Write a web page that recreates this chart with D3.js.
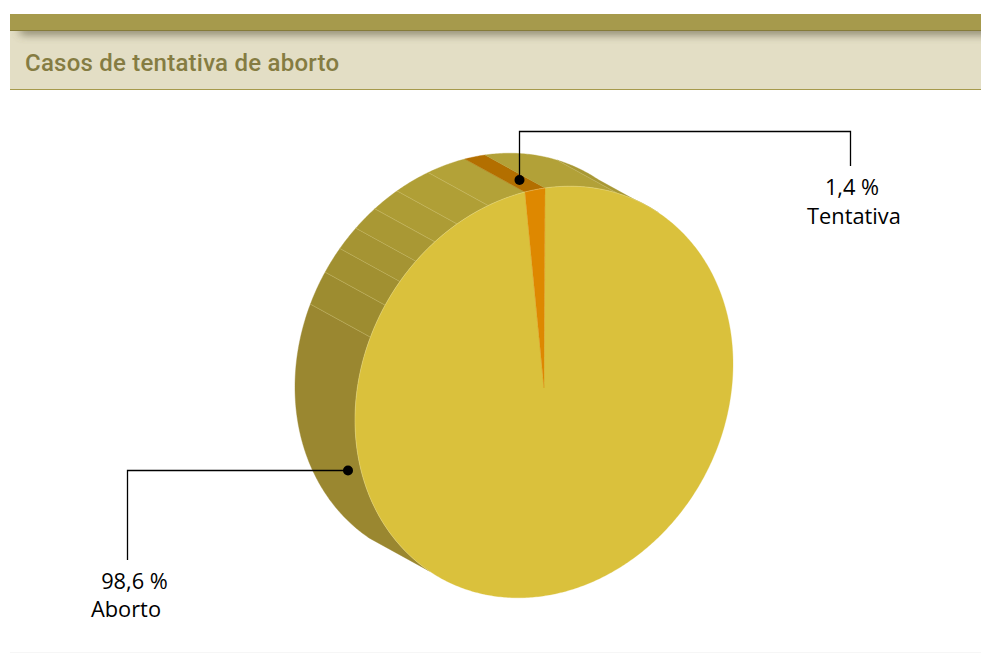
<!DOCTYPE html>
<html><head><meta charset="utf-8">
<script src="https://cdn.jsdelivr.net/npm/d3@7/dist/d3.min.js"></script>
<style>html,body{margin:0;padding:0;background:#fff}svg{display:block}</style>
</head><body><svg id="c" width="981" height="653"></svg>
<script>
const title = "Casos de tentativa de aborto";
const categories = ["Aborto", "Tentativa"];
const shares = [98.6, 1.4];
const shareLabels = ["98,6 %", "1,4 %"];
const faceColors = ["#dac13c", "#de8800"];
const sideColors = ["#9a8830", "#b36f00"];
// facet edges of the extruded wall, degrees clockwise from 12 o'clock
const facetEdges = [-143, -67, -57.5, -50, -43, -35.6, -27.7, -17.5, 0, 22.5, 37];

const svg = d3.select("#c");
const defs = svg.append("defs");
defs.append("filter").attr("id","blur").attr("x","-5%").attr("y","-300%").attr("width","110%").attr("height","700%")
  .append("feGaussianBlur").attr("stdDeviation",5);
defs.append("clipPath").attr("id","band").append("rect").attr("x",10).attr("y",31).attr("width",971).attr("height",58);

// header
svg.append("rect").attr("x",10).attr("y",31).attr("width",971).attr("height",58).attr("fill","#e3dec5");
svg.append("g").attr("clip-path","url(#band)")
  .append("rect").attr("x",20).attr("y",26).attr("width",980).attr("height",8).attr("fill","#5e5a40").attr("opacity",.8).attr("filter","url(#blur)");
svg.append("rect").attr("x",10).attr("y",14).attr("width",971).attr("height",16).attr("fill","#a69a4c");
svg.append("rect").attr("x",10).attr("y",30).attr("width",971).attr("height",1).attr("fill","#857b3a");
svg.append("rect").attr("x",10).attr("y",89).attr("width",971).attr("height",1).attr("fill","#a69a4c");
svg.append("text").attr("x",25).attr("y",71).text(title)
  .attr("font-family","Roboto").attr("font-weight",500).attr("font-size",24).attr("letter-spacing",.23).attr("fill","#857c42");
svg.append("rect").attr("x",10).attr("y",652).attr("width",971).attr("height",1).attr("fill","#f6f6f6");

// projected pie geometry
const cx = 544, cy = 392, apex = [544, 388];
const ax = d3.scaleLinear().domain([-1,1]).range([-189,189]);   // sin component to x
const ay = d3.scaleLinear().domain([-1,1]).range([27,-27]);     // sin component to y
const bx = d3.scaleLinear().domain([-1,1]).range([-1,1]);       // cos component to x
const by = d3.scaleLinear().domain([-1,1]).range([204,-204]);   // cos component to y
const depth = {x:-60, y:-33};
const front = t => [cx + ax(Math.sin(t)) + bx(Math.cos(t)), cy + ay(Math.sin(t)) + by(Math.cos(t))];
const back = t => { const p = front(t); return [p[0]+depth.x, p[1]+depth.y]; };
const rad = d => d*Math.PI/180;
const arcPts = (fn,a,b) => { const n = Math.max(2,Math.ceil(Math.abs(b-a)/0.01)); return d3.range(n+1).map(i => fn(a+(b-a)*i/n)); };
const line = d3.line();

// perspective widens the thin slice slightly: share of the pie to drawn angle, from the top going backward
const sliceAngle = d3.scaleLinear().domain([0,1.4,100]).range([0,rad(6.1),2*Math.PI]);
const tentAngle = sliceAngle(shares[1]);
const pie = [
  {startAngle:0, endAngle:2*Math.PI-tentAngle},
  {startAngle:-tentAngle, endAngle:0}
];
const shade = d3.scaleLinear().domain([-100,-62,-53,-46,-39,-31,-22,-11,10,30])
  .range(["#9a8830","#9d8c30","#a19031","#a59433","#a99834","#ad9c35","#b09f36","#b3a238","#b3a238","#a89834"]);

const edgesDeg = facetEdges.concat([-tentAngle*180/Math.PI]).sort(d3.ascending);
const facets = d3.pairs(edgesDeg).map(([a,b]) => ({a:rad(a), b:rad(b), mid:(a+b)/2}));
const inTent = f => f.a >= -tentAngle-1e-6 && f.b <= 1e-6;
const gSide = svg.append("g");
gSide.selectAll("path").data(facets).join("path")
  .attr("d", f => line(arcPts(front,f.a,f.b).concat(arcPts(back,f.b,f.a)))+"Z")
  .attr("fill", f => inTent(f) ? sideColors[1] : shade(f.mid))
  .attr("stroke", f => inTent(f) ? sideColors[1] : shade(f.mid)).attr("stroke-width",.4);
gSide.selectAll("line").data(facetEdges.slice(1,-1).filter(d => d !== 0)).join("line")
  .attr("x1", d => back(rad(d))[0]).attr("y1", d => back(rad(d))[1])
  .attr("x2", d => front(rad(d))[0]).attr("y2", d => front(rad(d))[1])
  .attr("stroke","#d8cc80").attr("stroke-opacity",.5).attr("stroke-width",.7);

// face
svg.append("g").selectAll("path").data(pie).join("path")
  .attr("d", d => line([apex].concat(arcPts(front,d.startAngle,d.endAngle)))+"Z")
  .attr("fill",(d,i)=>faceColors[i]).attr("stroke",(d,i)=>faceColors[i]).attr("stroke-width",.3);
svg.append("path").attr("d", line(arcPts(front,rad(-143),rad(37)))).attr("fill","none").attr("stroke","#efe6a8").attr("stroke-opacity",.55).attr("stroke-width",.6);

// callouts
const callouts = [
  {pts:[[348,470.5],[127.5,470.5],[127.5,560]], lines:[{t:shareLabels[0],x:134.5,y:589},{t:categories[0],x:126,y:617}]},
  {pts:[[519.5,180],[519.5,131.5],[850.5,131.5],[850.5,166]], lines:[{t:shareLabels[1],x:852,y:195},{t:categories[1],x:854,y:224}]}
];
callouts.forEach(c => {
  svg.append("path").attr("d",line(c.pts)).attr("fill","none").attr("stroke","#000").attr("stroke-width",1.3);
  svg.append("circle").attr("cx",c.pts[0][0]).attr("cy",c.pts[0][1]).attr("r",5).attr("fill","#000");
  c.lines.forEach(l => svg.append("text").attr("x",l.x).attr("y",l.y).text(l.t)
    .attr("text-anchor","middle").attr("font-family","'Open Sans'").attr("font-size",21.8).attr("fill","#000"));
});
</script></body></html>
